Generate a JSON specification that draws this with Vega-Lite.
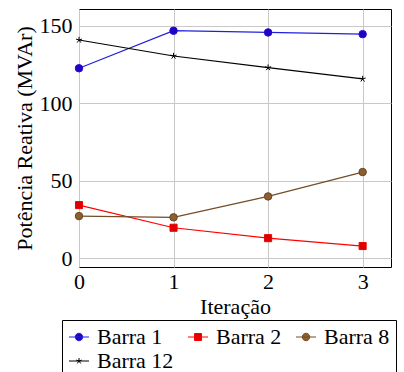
{
  "$schema": "https://vega.github.io/schema/vega-lite/v6.json",
  "width": 312,
  "height": 258,
  "autosize": {"type": "none"},
  "padding": {"left": 79, "top": 9, "right": 13, "bottom": 105},
  "background": "white",
  "config": {
    "font": "'Liberation Serif', 'DejaVu Serif', serif",
    "view": {"stroke": "#000000", "strokeWidth": 1},
    "axis": {
      "labelFont": "'Liberation Serif', 'DejaVu Serif', serif",
      "labelFontSize": 22,
      "labelColor": "#000000",
      "labelFlush": false,
      "titleFont": "'Liberation Serif', 'DejaVu Serif', serif",
      "titleFontSize": 22,
      "titleFontWeight": "normal",
      "titleColor": "#000000",
      "grid": true,
      "gridColor": "#c8c8c8",
      "gridWidth": 1,
      "domain": false,
      "ticks": false
    },
    "legend": {
      "labelFont": "'Liberation Serif', 'DejaVu Serif', serif",
      "labelFontSize": 22,
      "labelColor": "#000000"
    }
  },
  "data": {
    "values": [
      {"series": "Barra 1", "iter": 0, "value": 122.6},
      {"series": "Barra 1", "iter": 1, "value": 146.8},
      {"series": "Barra 1", "iter": 2, "value": 145.7},
      {"series": "Barra 1", "iter": 3, "value": 144.6},
      {"series": "Barra 2", "iter": 0, "value": 34.4},
      {"series": "Barra 2", "iter": 1, "value": 19.8},
      {"series": "Barra 2", "iter": 2, "value": 13.1},
      {"series": "Barra 2", "iter": 3, "value": 8.0},
      {"series": "Barra 8", "iter": 0, "value": 27.3},
      {"series": "Barra 8", "iter": 1, "value": 26.5},
      {"series": "Barra 8", "iter": 2, "value": 40.0},
      {"series": "Barra 8", "iter": 3, "value": 55.7},
      {"series": "Barra 12", "iter": 0, "value": 140.8},
      {"series": "Barra 12", "iter": 1, "value": 130.5},
      {"series": "Barra 12", "iter": 2, "value": 123.0},
      {"series": "Barra 12", "iter": 3, "value": 115.7}
    ]
  },
  "encoding": {
    "x": {
      "field": "iter",
      "type": "quantitative",
      "scale": {"domain": [0, 3.3], "nice": false, "zero": false},
      "axis": {
        "values": [0, 1, 2, 3],
        "format": "d",
        "labelPadding": 4,
        "title": "Iteração",
        "titlePadding": 4
      }
    },
    "y": {
      "field": "value",
      "type": "quantitative",
      "scale": {"domain": [-5.5, 160.8], "nice": false, "zero": false},
      "axis": {
        "values": [0, 50, 100, 150],
        "labelPadding": 7,
        "title": "Potência Reativa (MVAr)",
        "titlePadding": 3
      }
    }
  },
  "layer": [
    {
      "mark": {"type": "line", "strokeWidth": 1.2},
      "encoding": {
        "color": {
          "field": "series",
          "type": "nominal",
          "scale": {
            "domain": ["Barra 1", "Barra 2", "Barra 8", "Barra 12"],
            "range": ["#2020e0", "#ff0000", "#734d26", "#000000"]
          },
          "legend": {
            "title": null,
            "orient": "none",
            "legendX": -17,
            "legendY": 311,
            "direction": "horizontal",
            "columns": 3,
            "padding": 6,
            "columnPadding": 12,
            "rowPadding": 2,
            "labelOffset": 7,
            "symbolSize": 400,
            "symbolStrokeWidth": 1,
            "strokeColor": "#000000",
            "fillColor": "#ffffff",
            "encode": {
              "symbols": {
                "update": {
                  "shape": {
                    "signal": "datum.value === 'Barra 1' || datum.value === 'Barra 8' ? 'M-1,0L1,0M-0.375,0A0.375,0.375,0,1,1,0.375,0A0.375,0.375,0,1,1,-0.375,0Z' : datum.value === 'Barra 2' ? 'M-1,0L1,0M-0.35,-0.35L0.35,-0.35L0.35,0.35L-0.35,0.35Z' : 'M-1,0L1,0M0,0L0,-0.3M0,0L0.285,-0.093M0,0L0.176,0.243M0,0L-0.176,0.243M0,0L-0.285,-0.093'"
                  },
                  "fill": {
                    "signal": "datum.value === 'Barra 1' ? '#2200c8' : datum.value === 'Barra 2' ? '#dd0000' : datum.value === 'Barra 8' ? '#8c5e30' : '#000000'"
                  },
                  "stroke": {"scale": "color", "field": "value"},
                  "strokeWidth": {"value": 1}
                }
              }
            }
          }
        }
      }
    },
    {
      "transform": [{"filter": "datum.series === 'Barra 1'"}],
      "mark": {"type": "point", "shape": "circle", "size": 56, "filled": true, "fill": "#2200c8", "stroke": "#2010d0", "strokeWidth": 1, "opacity": 1}
    },
    {
      "transform": [{"filter": "datum.series === 'Barra 2'"}],
      "mark": {"type": "point", "shape": "square", "size": 50, "filled": true, "fill": "#dd0000", "stroke": "#ee0000", "strokeWidth": 1, "opacity": 1}
    },
    {
      "transform": [{"filter": "datum.series === 'Barra 8'"}],
      "mark": {"type": "point", "shape": "circle", "size": 56, "filled": true, "fill": "#8c5e30", "stroke": "#6a4722", "strokeWidth": 1, "opacity": 1}
    },
    {
      "transform": [{"filter": "datum.series === 'Barra 12'"}],
      "mark": {"type": "point", "shape": "M0,0L0,-1M0,0L0.951,-0.309M0,0L0.588,0.809M0,0L-0.588,0.809M0,0L-0.951,-0.309", "size": 40, "filled": false, "stroke": "#000000", "strokeWidth": 1, "opacity": 1}
    }
  ]
}
